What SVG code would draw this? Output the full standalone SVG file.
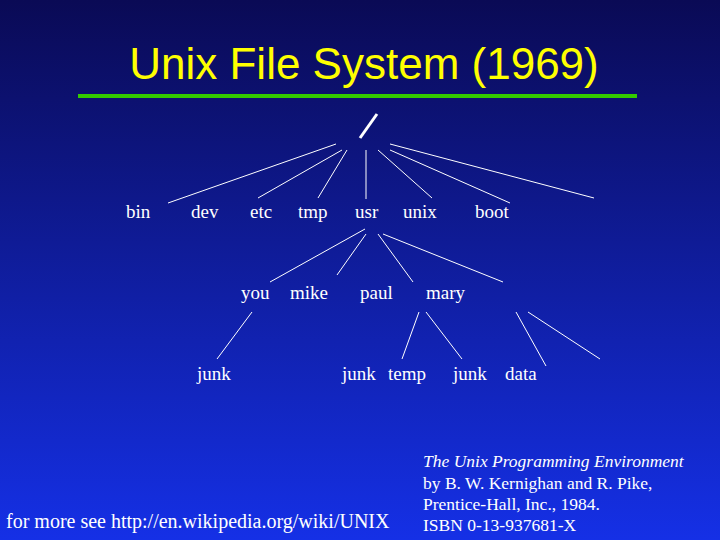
<svg xmlns="http://www.w3.org/2000/svg" width="720" height="540" viewBox="0 0 720 540">
<defs><linearGradient id="bg" x1="0" y1="0" x2="0" y2="1"><stop offset="0" stop-color="#0a0a55"/><stop offset="1" stop-color="#1530e6"/></linearGradient></defs>
<style>.t{font-family:"Liberation Serif",serif;font-size:19px;fill:#fff}.b{font-family:"Liberation Serif",serif;font-size:17.5px;fill:#fff}line{stroke:#fff;stroke-width:1}</style>
<rect width="720" height="540" fill="url(#bg)"/>
<text x="364" y="79" text-anchor="middle" font-family="Liberation Sans,sans-serif" font-size="44" fill="#ffff00">Unix File System (1969)</text>
<rect x="78" y="94" width="559" height="4" fill="#33cc00"/>
<g id="connectors">
<line x1="377" y1="114" x2="360" y2="138" style="stroke-width:3"/>
<line x1="336" y1="144" x2="168" y2="203"/><line x1="342" y1="150" x2="258" y2="198"/><line x1="347" y1="150" x2="318" y2="198"/><line x1="366" y1="150" x2="366" y2="199"/><line x1="378" y1="150" x2="432" y2="198"/><line x1="390" y1="150" x2="510" y2="203"/><line x1="390" y1="144" x2="594" y2="198"/>
<line x1="365" y1="229" x2="270" y2="282"/><line x1="366" y1="234" x2="337" y2="275"/><line x1="378" y1="234" x2="413" y2="282"/><line x1="383" y1="234" x2="503" y2="282"/>
<line x1="252" y1="312" x2="217" y2="359"/><line x1="419" y1="312" x2="402" y2="359"/><line x1="426" y1="312" x2="462" y2="359"/><line x1="516" y1="312" x2="546" y2="366"/><line x1="528" y1="312" x2="600" y2="359"/>
</g>
<g id="n-bin"><text class="t" x="126" y="218">bin</text></g>
<g id="n-dev"><text class="t" x="191" y="218">dev</text></g>
<g id="n-etc"><text class="t" x="250" y="218">etc</text></g>
<g id="n-tmp"><text class="t" x="298" y="218">tmp</text></g>
<g id="n-usr"><text class="t" x="355" y="218">usr</text></g>
<g id="n-unix"><text class="t" x="403" y="218">unix</text></g>
<g id="n-boot"><text class="t" x="475" y="218">boot</text></g>
<g id="n-you"><text class="t" x="241" y="299">you</text></g>
<g id="n-mike"><text class="t" x="290" y="299">mike</text></g>
<g id="n-paul"><text class="t" x="360" y="299">paul</text></g>
<g id="n-mary"><text class="t" x="426" y="299">mary</text></g>
<g id="n-junk1"><text class="t" x="197" y="380">junk</text></g>
<g id="n-junk2"><text class="t" x="342" y="380">junk</text></g>
<g id="n-temp"><text class="t" x="388" y="380">temp</text></g>
<g id="n-junk3"><text class="t" x="453" y="380">junk</text></g>
<g id="n-data"><text class="t" x="505" y="380">data</text></g>
<text class="t" x="6" y="528" style="font-size:20px">for more see http://en.wikipedia.org/wiki/UNIX</text>
<text class="b" x="423" y="467" font-style="italic">The Unix Programming Environment</text>
<text class="b" x="423" y="489">by B. W. Kernighan and R. Pike,</text>
<text class="b" x="423" y="510">Prentice-Hall, Inc., 1984.</text>
<text class="b" x="423" y="531">ISBN 0-13-937681-X</text>
</svg>
